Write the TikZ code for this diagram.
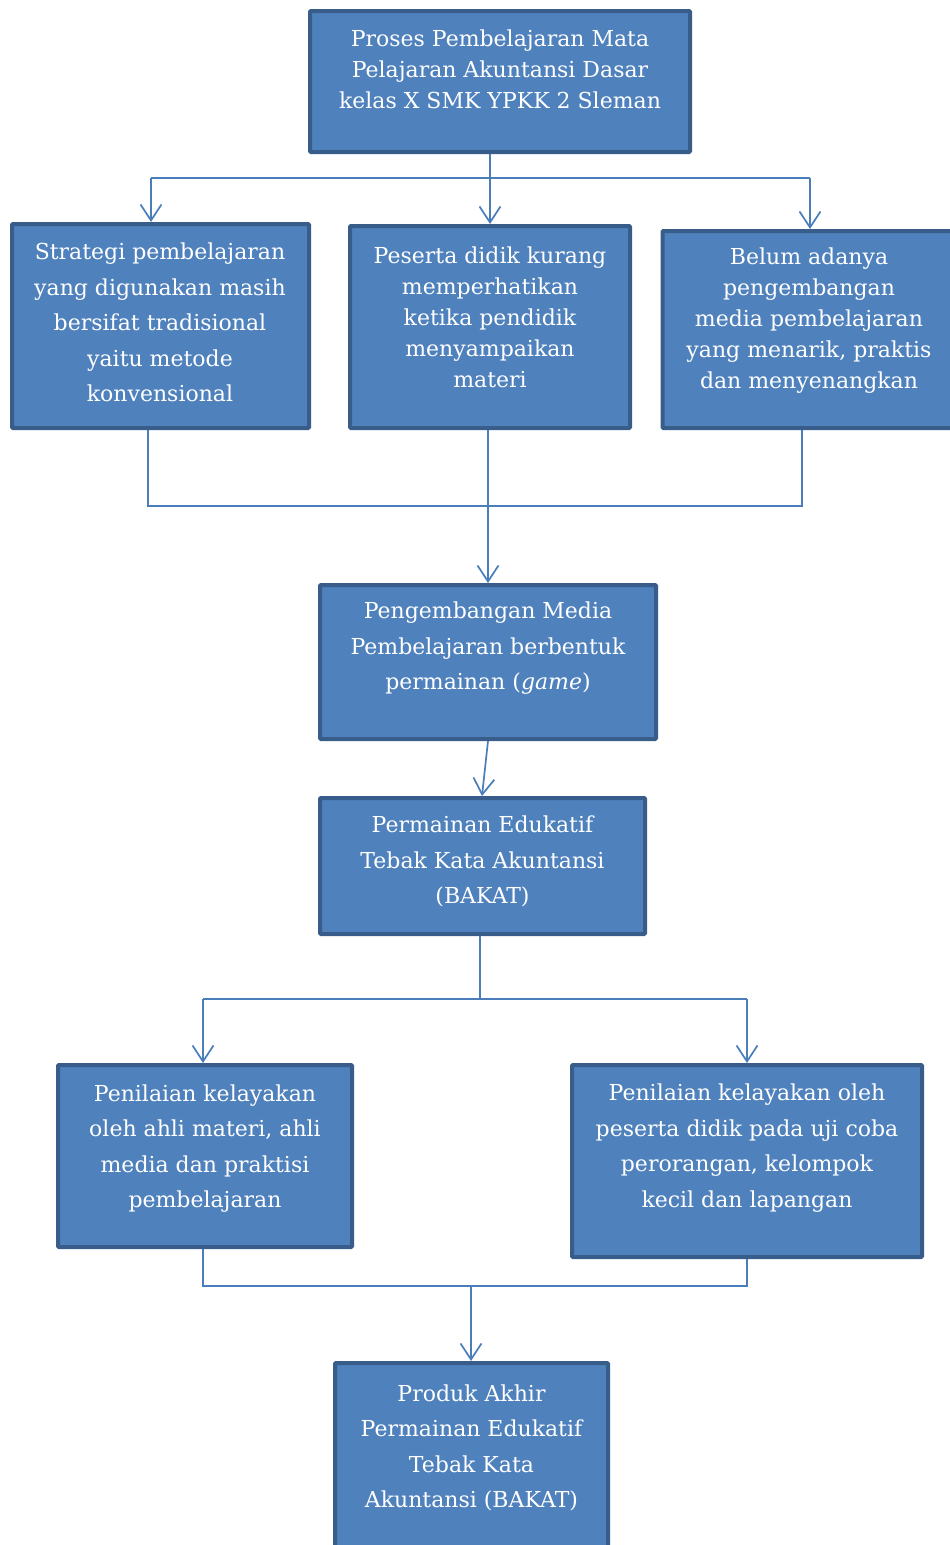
\documentclass[tikz,border=0pt]{standalone}
\usepackage{fontspec}
\setmainfont{DejaVu Serif}
\usetikzlibrary{arrows.meta}
\definecolor{boxfill}{HTML}{4F81BD}
\definecolor{boxline}{HTML}{385D8A}
\definecolor{conn}{HTML}{4A7EBB}
\begin{document}
\begin{tikzpicture}[x=1pt,y=-1pt,
  box/.style={draw=boxline, fill=boxfill, line width=4pt, rounded corners=1pt, inner sep=0pt},
  txt/.style={text=white, align=center, inner sep=0pt, font=\fontsize{22}{31}\selectfont},
  wide/.style={font=\fontsize{22}{35.5}\selectfont},
  link/.style={draw=conn, line width=1.7pt},
  arr/.style={link, -{Straight Barb[length=16pt,width=21pt,line width=1.7pt]}}]
\useasboundingbox (0,0) rectangle (950,1545);
% boxes
\node[box, minimum width=380pt, minimum height=141pt] (b1) at (500,81.5) {};
\node[box, minimum width=297pt, minimum height=204pt] (b2) at (160.5,326) {};
\node[box, minimum width=280pt, minimum height=202pt] (b3) at (490,327) {};
\node[box, minimum width=293pt, minimum height=197pt] (b4) at (809,329.5) {};
\node[box, minimum width=336pt, minimum height=154pt] (b5) at (488,662) {};
\node[box, minimum width=325pt, minimum height=136pt] (b6) at (482.5,866) {};
\node[box, minimum width=294pt, minimum height=182pt] (b7) at (205,1156) {};
\node[box, minimum width=350pt, minimum height=192pt] (b8) at (747,1161) {};
\node[box, minimum width=273pt, minimum height=200pt] (b9) at (471.5,1463) {};
% texts
\node[txt] (t1) at (500,69.5) {Proses Pembelajaran Mata\\Pelajaran Akuntansi Dasar\\kelas X SMK YPKK 2 Sleman};
\node[txt, wide] (t2) at (160,322.5) {Strategi pembelajaran\\yang digunakan masih\\bersifat tradisional\\yaitu metode\\konvensional};
\node[txt] (t3) at (490,317.5) {Peserta didik kurang\\memperhatikan\\ketika pendidik\\menyampaikan\\materi};
\node[txt] (t4) at (809,321) {Belum adanya\\pengembangan\\media pembelajaran\\yang menarik, praktis\\dan menyenangkan};
\node[txt, wide] (t5) at (488,648.5) {Pengembangan Media\\Pembelajaran berbentuk\\permainan (\textit{game})};
\node[txt, wide] (t6) at (482.5,861.5) {Permainan Edukatif\\Tebak Kata Akuntansi\\(BAKAT)};
\node[txt, wide] (t7) at (205,1148.5) {Penilaian kelayakan\\oleh ahli materi, ahli\\media dan praktisi\\pembelajaran};
\node[txt, wide] (t8) at (747,1148) {Penilaian kelayakan oleh\\peserta didik pada uji coba\\perorangan, kelompok\\kecil dan lapangan};
\node[txt, wide] (t9) at (471.5,1448) {Produk Akhir\\Permainan Edukatif\\Tebak Kata\\Akuntansi (BAKAT)};
% connectors
\coordinate (s1) at (490,178);
\coordinate (s1l) at (151,178);
\coordinate (s1r) at (810,178);
\draw[link] (b1.south -| s1) -- (s1);
\draw[link] (s1l) -- (s1r);
\draw[arr] (s1l) -- (s1l |- b2.north);
\draw[arr] (s1) -- (s1 |- b3.north);
\draw[arr] (s1r) -- (s1r |- b4.north);
\coordinate (j2l) at (148,506);
\coordinate (j2r) at (802,506);
\coordinate (j2m) at (488,506);
\draw[link] (j2l |- b2.south) -- (j2l) -- (j2r) -- (j2r |- b4.south);
\draw[arr] (j2m |- b3.south) -- (j2m |- b5.north);
\coordinate (c5a) at (488,741);
\coordinate (c6a) at (482,796);
\draw[arr] (c5a) -- (c6a);
\coordinate (j3) at (480,999);
\coordinate (j3l) at (203,999);
\coordinate (j3r) at (747,999);
\draw[link] (j3 |- b6.south) -- (j3);
\draw[link] (j3l) -- (j3r);
\draw[arr] (j3l) -- (j3l |- b7.north);
\draw[arr] (j3r) -- (j3r |- b8.north);
\coordinate (j4l) at (203,1286);
\coordinate (j4r) at (747,1286);
\coordinate (j4m) at (471,1286);
\draw[link] (j4l |- b7.south) -- (j4l) -- (j4r) -- (j4r |- b8.south);
\draw[arr] (j4m) -- (j4m |- b9.north);
\end{tikzpicture}
\end{document}
